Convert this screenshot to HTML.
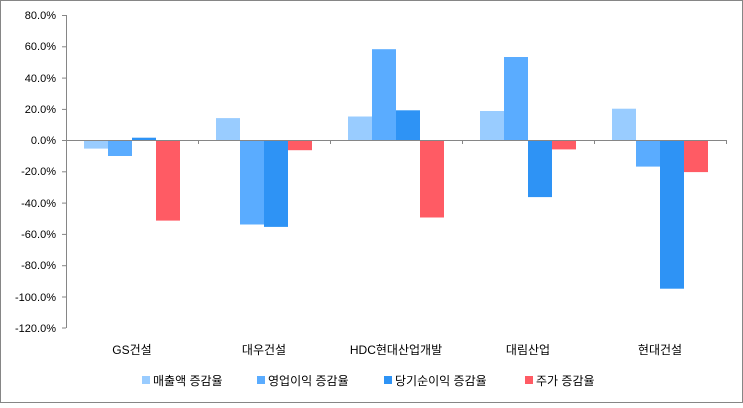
<!DOCTYPE html>
<html><head><meta charset="utf-8"><style>
body{margin:0;background:#fff}
svg text{font-family:"Liberation Sans","Noto Sans CJK KR",sans-serif;font-size:11px;fill:#000}
svg text.b{font-size:12px}
</style></head><body>
<svg width="743" height="403" xmlns="http://www.w3.org/2000/svg">
<rect x="0.5" y="0.5" width="742" height="402" fill="#fff" stroke="#868686"/>
<line x1="66.5" y1="15" x2="66.5" y2="328" stroke="#868686"/>
<g stroke="#868686">
<line x1="62" y1="15.5" x2="66" y2="15.5"/><line x1="62" y1="46.8" x2="66" y2="46.8"/>
<line x1="62" y1="78.1" x2="66" y2="78.1"/><line x1="62" y1="109.4" x2="66" y2="109.4"/>
<line x1="62" y1="140.5" x2="66" y2="140.5"/><line x1="62" y1="171.8" x2="66" y2="171.8"/>
<line x1="62" y1="203.1" x2="66" y2="203.1"/><line x1="62" y1="234.4" x2="66" y2="234.4"/>
<line x1="62" y1="265.7" x2="66" y2="265.7"/><line x1="62" y1="297" x2="66" y2="297"/>
<line x1="62" y1="328" x2="66" y2="328"/>
</g>
<g text-anchor="end">
<text x="56" y="19">80.0%</text><text x="56" y="50">60.0%</text><text x="56" y="82">40.0%</text>
<text x="56" y="113">20.0%</text><text x="56" y="144">0.0%</text><text x="56" y="175">-20.0%</text>
<text x="56" y="207">-40.0%</text><text x="56" y="238">-60.0%</text><text x="56" y="269">-80.0%</text>
<text x="56" y="301">-100.0%</text><text x="56" y="332">-120.0%</text>
</g>
<g>
<rect x="84" y="140" width="24" height="8.6" fill="#99ccff"/>
<rect x="108" y="140" width="24" height="16" fill="#5aacff"/>
<rect x="132" y="137.7" width="24" height="2.3" fill="#2e93f5"/>
<rect x="156" y="140" width="24" height="80.6" fill="#ff5b64"/>

<rect x="216" y="118.1" width="24" height="21.9" fill="#99ccff"/>
<rect x="240" y="140" width="24" height="84.5" fill="#5aacff"/>
<rect x="264" y="140" width="24" height="86.9" fill="#2e93f5"/>
<rect x="288" y="140" width="24" height="10.2" fill="#ff5b64"/>

<rect x="348" y="116.5" width="24" height="23.5" fill="#99ccff"/>
<rect x="372" y="49.2" width="24" height="90.8" fill="#5aacff"/>
<rect x="396" y="110.3" width="24" height="29.7" fill="#2e93f5"/>
<rect x="420" y="140" width="24" height="77.5" fill="#ff5b64"/>

<rect x="480" y="111" width="24" height="29" fill="#99ccff"/>
<rect x="504" y="57" width="24" height="83" fill="#5aacff"/>
<rect x="528" y="140" width="24" height="57.1" fill="#2e93f5"/>
<rect x="552" y="140" width="24" height="9.4" fill="#ff5b64"/>

<rect x="612" y="108.7" width="24" height="31.3" fill="#99ccff"/>
<rect x="636" y="140" width="24" height="26.6" fill="#5aacff"/>
<rect x="660" y="140" width="24" height="148.7" fill="#2e93f5"/>
<rect x="684" y="140" width="24" height="32.1" fill="#ff5b64"/>
</g>
<line x1="66" y1="140.5" x2="726" y2="140.5" stroke="#868686"/>
<g stroke="#868686">
<line x1="198.5" y1="140" x2="198.5" y2="144"/><line x1="330.5" y1="140" x2="330.5" y2="144"/>
<line x1="462.5" y1="140" x2="462.5" y2="144"/><line x1="594.5" y1="140" x2="594.5" y2="144"/>
<line x1="726.5" y1="140" x2="726.5" y2="144"/>
</g>
<g text-anchor="middle">
<text class="b" x="132" y="354">GS건설</text><text class="b" x="264" y="354">대우건설</text>
<text class="b" x="396" y="354">HDC현대산업개발</text><text class="b" x="528" y="354">대림산업</text>
<text class="b" x="660" y="354">현대건설</text>
</g>
<rect x="142" y="376" width="8" height="8" fill="#99ccff"/><text class="b" x="153" y="385">매출액 증감율</text>
<rect x="257" y="376" width="8" height="8" fill="#5aacff"/><text class="b" x="268" y="385">영업이익 증감율</text>
<rect x="384" y="376" width="8" height="8" fill="#2e93f5"/><text class="b" x="395" y="385">당기순이익 증감율</text>
<rect x="525" y="376" width="8" height="8" fill="#ff5b64"/><text class="b" x="536" y="385">주가 증감율</text>
</svg>
</body></html>
